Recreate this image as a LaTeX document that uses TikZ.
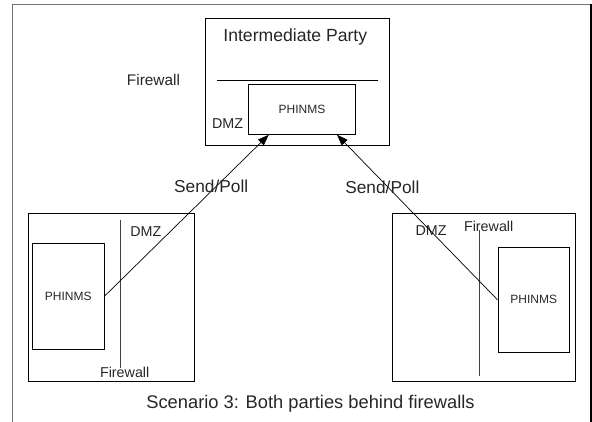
\documentclass[tikz,border=0pt]{standalone}
\usepackage{fontspec}
\setmainfont{Liberation Sans}
\usetikzlibrary{arrows.meta,calc}
\tikzset{
  box/.style={draw,line width=0.9pt,inner sep=0pt},
  lbl/.style={inner sep=0pt,text=black!85},
  wall/.style={line width=0.9pt,black!75},
  link/.style={line width=0.7pt,-{Triangle[length=11pt,width=8pt]}}
}
\begin{document}
\begin{tikzpicture}[x=1pt,y=-1pt]
        \useasboundingbox (0,0) rectangle (592,422);
        % frame
        \draw[line width=1.2pt,black!55] (12.5,422) -- (12.5,4.5) -- (591,4.5);
        \draw[line width=1.2pt] (591,4.5) -- (591,422);
        % intermediate party
        \node[box,minimum width=183.3pt,minimum height=126.7pt] (ip) at (297.4,81.7) {};
        \node[lbl,font=\fontsize{17.6}{17}\selectfont] (ipname) at (295.3,37) {Intermediate Party};
        \draw[line width=0.9pt] (216.7,80.3) coordinate (fw1) -- (377.7,80.3) coordinate (fw2);
        \node[lbl,font=\fontsize{15.4}{15}\selectfont] (fwtop) at (153.5,80) {Firewall};
        \node[box,minimum width=107.4pt,minimum height=50pt,font=\fontsize{12}{12}\selectfont,text=black!85] (tp) at (302,109.3) {PHINMS};
        \node[lbl,font=\fontsize{14.3}{14}\selectfont] (dmztop) at (227.5,124) {DMZ};
        % left party
        \node[box,minimum width=166pt,minimum height=168.4pt] (lp) at (111.3,297.5) {};
        \node[box,minimum width=71.7pt,minimum height=105.7pt,font=\fontsize{12}{12}\selectfont,text=black!85] (lphinms) at (68.2,296.2) {PHINMS};
        \draw[wall] (120,220) coordinate (lw1) -- (120,368.3) coordinate (lw2);
        \node[lbl,font=\fontsize{14.3}{14}\selectfont] (ldmz) at (145.8,231.7) {DMZ};
        \node[lbl,font=\fontsize{14.3}{14}\selectfont] (lfw) at (124.7,372) {Firewall};
        % right party
        \node[box,minimum width=182.6pt,minimum height=168.4pt] (rp) at (484,297.5) {};
        \node[box,minimum width=71.7pt,minimum height=105pt,font=\fontsize{12}{12}\selectfont,text=black!85] (rphinms) at (533.8,299.8) {PHINMS};
        \draw[wall] (479.3,230) coordinate (rw1) -- (479.3,376) coordinate (rw2);
        \node[lbl,font=\fontsize{14.3}{14}\selectfont] (rdmz) at (431,230.7) {DMZ};
        \node[lbl,font=\fontsize{14.3}{14}\selectfont] (rfw) at (488.7,226.7) {Firewall};
        % send/poll
        \draw[link] (lphinms.east) -- ($(tp.south west)!0.193!(tp.south east)$)
            node[lbl,pos=0.68,xshift=-5pt,font=\fontsize{17.3}{17}\selectfont] (lsend) {Send/Poll};
        \draw[link] (rphinms.west) -- ($(tp.south west)!0.823!(tp.south east)$)
            node[lbl,pos=0.68,xshift=-6pt,font=\fontsize{17.3}{17}\selectfont] (rsend) {Send/Poll};
        \node[lbl,font=\fontsize{18.3}{18}\selectfont] (caption) at (310.5,404) {Scenario 3: Both parties behind firewalls};
    \end{tikzpicture}
\end{document}
